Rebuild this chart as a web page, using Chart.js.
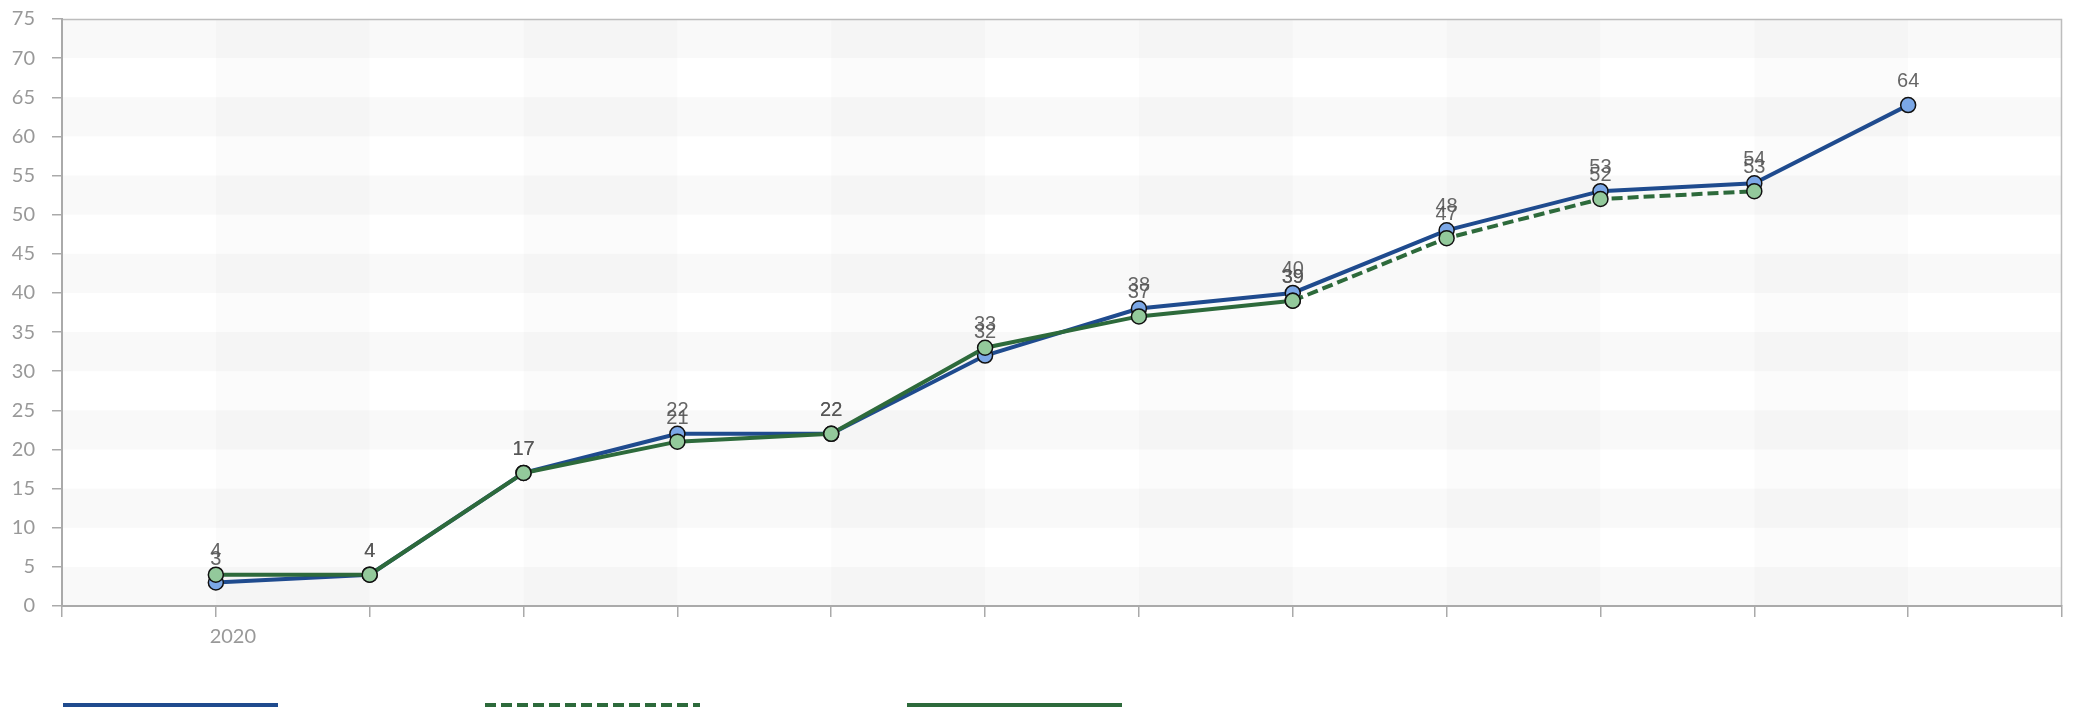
<!DOCTYPE html>
<html>
<head>
<meta charset="utf-8">
<script src="https://cdn.jsdelivr.net/npm/chart.js@4.4.0/dist/chart.umd.min.js"></script>
<style>
  html, body { margin: 0; padding: 0; background: #fff; }
  #wrap { width: 2075px; height: 716px; position: relative; }
</style>
</head>
<body>
<div id="wrap"><canvas id="grafico"></canvas></div>
<script>
// datos
var etiquetas = ['', '2020', '', '', '', '', '', '', '', '', '', '', '', ''];
var serieAzul = [null, 3, 4, 17, 22, 22, 32, 38, 40, 48, 53, 54, 64, null];
var serieVerdePunteada = [null, null, null, null, null, null, null, null, 39, 47, 52, 53, null, null];
var serieVerde = [null, 4, 4, 17, 21, 22, 33, 37, 39, null, null, null, null, null];
var ticksY = [0, 5, 10, 15, 20, 25, 30, 35, 40, 45, 50, 55, 60, 65, 70, 75];

// franjas de fondo y borde superior/derecho
var fondoFranjas = {
    id: 'fondoFranjas',
    beforeDraw: function (chart) {
        var ctx = chart.ctx;
        var area = chart.chartArea;
        var x = chart.scales.x;
        var y = chart.scales.y;
        ctx.save();
        ctx.fillStyle = '#ffffff';
        ctx.fillRect(area.left, area.top, area.right - area.left, area.bottom - area.top);
        // franjas horizontales
        for (var i = 0; i < ticksY.length - 1; i++) {
            if (i % 2 === 0) {
                var y1 = y.getPixelForValue(ticksY[i]);
                var y2 = y.getPixelForValue(ticksY[i + 1]);
                ctx.fillStyle = '#f9f9f9';
                ctx.fillRect(area.left, y2, area.right - area.left, y1 - y2);
            }
        }
        // franjas verticales
        for (var j = 0; j < etiquetas.length - 1; j++) {
            if (j % 2 === 1) {
                var x1 = x.getPixelForValue(j);
                var x2 = x.getPixelForValue(j + 1);
                ctx.fillStyle = 'rgba(0,0,0,0.016)';
                ctx.fillRect(x1, area.top, x2 - x1, area.bottom - area.top);
            }
        }
        ctx.strokeStyle = '#bdbdbd';
        ctx.lineWidth = 1.5;
        ctx.beginPath();
        ctx.moveTo(area.left, area.top + 0.5);
        ctx.lineTo(area.right - 0.5, area.top + 0.5);
        ctx.lineTo(area.right - 0.5, area.bottom);
        ctx.stroke();
        ctx.restore();
    }
};

// etiquetas de valores
var valoresTexto = {
    id: 'valoresTexto',
    afterDatasetsDraw: function (chart) {
        var ctx = chart.ctx;
        ctx.save();
        ctx.font = '20px "Liberation Sans", Arial, sans-serif';
        ctx.fillStyle = 'rgba(85,85,85,0.9)';
        ctx.textAlign = 'center';
        ctx.textBaseline = 'alphabetic';
        chart.data.datasets.forEach(function (ds, i) {
            var meta = chart.getDatasetMeta(i);
            meta.data.forEach(function (p, k) {
                if (ds.data[k] === null) return;
                ctx.fillText(ds.data[k], p.x, p.y - 18);
            });
        });
        ctx.restore();
    }
};

// leyenda solo con lineas
var leyendaLineas = {
    id: 'leyendaLineas',
    afterDraw: function (chart) {
        var ctx = chart.ctx;
        var x0 = chart.chartArea.left + 1;
        ctx.save();
        chart.data.datasets.forEach(function (ds, i) {
            ctx.strokeStyle = ds.borderColor;
            ctx.lineWidth = 4;
            ctx.setLineDash(ds.borderDash || []);
            ctx.beginPath();
            ctx.moveTo(x0 + i * 422, 705);
            ctx.lineTo(x0 + i * 422 + 215, 705);
            ctx.stroke();
        });
        ctx.restore();
    }
};

var ctx = document.getElementById('grafico').getContext('2d');
window.miGrafico = new Chart(ctx, {
    type: 'line',
    data: {
        labels: etiquetas,
        datasets: [{
            label: '',
            data: serieAzul,
            borderColor: '#1f4b8e',
            backgroundColor: '#7ba7e6',
            pointBackgroundColor: '#7ba7e6',
            pointBorderColor: '#111',
            pointBorderWidth: 1.5,
            pointRadius: 7.5,
            borderWidth: 4,
            tension: 0,
            order: 1
        }, {
            label: '',
            data: serieVerdePunteada,
            borderColor: '#2d6a3b',
            backgroundColor: '#93c99b',
            pointBackgroundColor: '#93c99b',
            pointBorderColor: '#111',
            pointBorderWidth: 1.5,
            pointRadius: 7.5,
            borderWidth: 4,
            borderDash: [11, 5],
            tension: 0,
            order: 0
        }, {
            label: '',
            data: serieVerde,
            borderColor: '#2d6a3b',
            backgroundColor: '#93c99b',
            pointBackgroundColor: '#93c99b',
            pointBorderColor: '#111',
            pointBorderWidth: 1.5,
            pointRadius: 7.5,
            borderWidth: 4,
            tension: 0,
            order: 0
        }]
    },
    options: {
        responsive: true,
        maintainAspectRatio: false,
        animation: false,
        layout: { padding: { top: 19, right: 13, left: 0, bottom: 0 }, autoPadding: false },
        plugins: {
            legend: { display: false },
            tooltip: { enabled: false }
        },
        scales: {
            x: {
                offset: false,
                grid: { drawOnChartArea: false, drawTicks: true, tickLength: 11, color: '#aaa', lineWidth: 1.5 },
                border: { color: '#aaa', width: 2 },
                ticks: {
                    autoSkip: false, maxRotation: 0, padding: 8, labelOffset: 17,
                    color: '#999', font: { family: 'Lato', size: 20 }
                },
                afterFit: function (scale) { scale.height = 110; }
            },
            y: {
                min: 0,
                max: 75,
                grid: { drawOnChartArea: false, drawTicks: true, tickLength: 10, color: '#aaa', lineWidth: 1.5 },
                border: { color: '#aaa', width: 2 },
                ticks: {
                    stepSize: 5, padding: 17,
                    color: '#999', font: { family: 'Lato', size: 20 }
                },
                afterFit: function (scale) {
                    scale.width = 62;
                    scale.paddingTop = 0;
                    scale.paddingBottom = 0;
                }
            }
        }
    },
    plugins: [fondoFranjas, valoresTexto, leyendaLineas]
});
</script>
</body>
</html>
